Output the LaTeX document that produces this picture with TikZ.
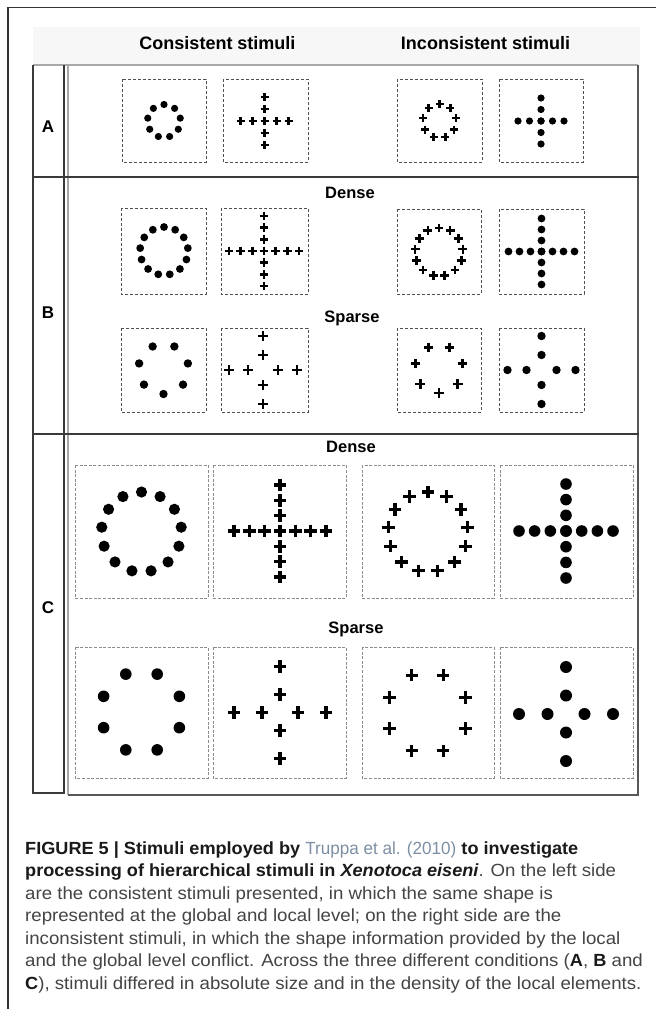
\documentclass[tikz,border=0pt]{standalone}
\usepackage{fontspec}
\setmainfont{Liberation Sans}
\newfontfamily\capfont[FakeStretch=1.06]{Liberation Sans}
\newfontfamily\capboldfont[FakeStretch=1.03]{Liberation Sans}
\newfontfamily\caplinkfont[FakeStretch=0.97]{Liberation Sans}
\definecolor{frameC}{HTML}{333333}
\definecolor{darkline}{HTML}{3A3A3A}
\definecolor{grayline}{HTML}{A8A8A8}
\definecolor{bandC}{HTML}{F7F7F7}
\definecolor{boxAB}{HTML}{505050}
\definecolor{boxC}{HTML}{8C8C8C}
\definecolor{capText}{HTML}{444444}
\definecolor{capBold}{HTML}{1A1A1A}
\definecolor{linkC}{HTML}{7D8FA3}
\newcommand{\stimdot}[3]{\fill[black] ({#1},{#2}) circle[radius=#3];}
\newcommand{\stimplus}[4]{\draw[black,line width=#4] ({#1-#3},{#2}) -- ({#1+#3},{#2}) ({#1},{#2-#3}) -- ({#1},{#2+#3});}
\newcommand{\ringdots}[6]{\foreach \k in {1,...,#4}{\pgfmathsetmacro{\stimang}{#5+360*(\k-1)/#4}\stimdot{#1+#3*cos(\stimang)}{#2-#3*sin(\stimang)}{#6}}}
\newcommand{\ringplus}[7]{\foreach \k in {1,...,#4}{\pgfmathsetmacro{\stimang}{#5+360*(\k-1)/#4}\stimplus{#1+#3*cos(\stimang)}{#2-#3*sin(\stimang)}{#6}{#7}}}
\newcommand{\crossdots}[4]{\foreach \off in {#3}{\stimdot{#1+\off}{#2}{#4}\stimdot{#1}{#2+\off}{#4}}}
\newcommand{\crossplus}[5]{\foreach \off in {#3}{\stimplus{#1+\off}{#2}{#4}{#5}\stimplus{#1}{#2+\off}{#4}{#5}}}
\newcommand{\capb}[1]{{\capboldfont\bfseries\color{capBold}#1}}
\begin{document}
\begin{tikzpicture}[x=1pt,y=-1pt,
  boxab/.style={draw=boxAB,line width=0.8pt,dash pattern=on 3pt off 2pt},
  boxc/.style={draw=boxC,line width=0.8pt,dash pattern=on 3pt off 1.6pt},
  headtxt/.style={font=\fontsize{18}{20}\selectfont\bfseries,text=black,inner sep=0pt},
  subtxt/.style={font=\fontsize{16.5}{18}\selectfont\bfseries,text=black,inner sep=0pt},
  rowtxt/.style={font=\fontsize{17}{19}\selectfont\bfseries,text=black,inner sep=0pt},
  captxt/.style={font=\capfont\fontsize{17.6}{20}\selectfont,text=capText,inner sep=0pt,anchor=base west}]
\useasboundingbox (0,0) rectangle (656,1009);
\fill[white] (0,0) rectangle (656,1009);
% outer frame
\draw[frameC,line width=1.2pt] (656,7.5) -- (8,7.5) -- (8,1009);
% header band
\fill[bandC] (33,27) rectangle (640,65);
\node[headtxt] (hcons) at (217.5,43) {Consistent stimuli};
\node[headtxt] (hincons) at (485.5,43) {Inconsistent stimuli};
% table
\draw[grayline,line width=1.2pt] (33,65) -- (638,65);
\draw[darkline,line width=1.2pt] (33,65) -- (33,793) -- (64,793) -- (64,65);
\draw[grayline,line width=1.2pt] (68,65) -- (68,795);
\draw[darkline!85,line width=1.5pt] (638,65) -- (638,795);
\draw[darkline!85,line width=1.8pt] (68,795) -- (638.7,795);
\draw[darkline,line width=2pt] (33,177) -- (638.7,177);
\draw[darkline,line width=2pt] (33,434) -- (638.7,434);
\node[rowtxt] (labA) at (48,127) {A};
\node[rowtxt] (labB) at (48,313) {B};
\node[rowtxt] (labC) at (48,608) {C};
% ---- row A
\draw[boxab] (122,79) rectangle (206,162);
\draw[boxab] (223,79) rectangle (308,162);
\draw[boxab] (397,79) rectangle (482,162);
\draw[boxab] (499,79) rectangle (583,162);
\ringdots{164}{121}{16.5}{9}{90}{3.6}
\crossplus{264.5}{121}{-24,-12,0,12,24}{4}{2.5}
\ringplus{439.5}{121}{17}{9}{90}{4}{2.5}
\crossdots{541}{121}{-23,-11.5,0,11.5,23}{3.6}
% ---- row B
\node[subtxt] (bdense) at (350,193) {Dense};
\node[subtxt] (bsparse) at (352,318) {Sparse};
\draw[boxab] (121,208) rectangle (206,294);
\draw[boxab] (221,208) rectangle (308,294);
\draw[boxab] (397,209) rectangle (481,294);
\draw[boxab] (499,209) rectangle (584,294);
\ringdots{164}{251}{24}{13}{90}{3.9}
\crossplus{264}{251}{-35,-23.4,-11.7,0,11.7,23.4,35}{4.4}{2.6}
\ringplus{439}{252}{24}{13}{90}{4.4}{2.6}
\crossdots{541.5}{251.5}{-33,-22,-11,0,11,22,33}{3.9}
\draw[boxab] (121,328) rectangle (206,412);
\draw[boxab] (221,328) rectangle (308,412);
\draw[boxab] (397,328) rectangle (481,412);
\draw[boxab] (499,328) rectangle (584,412);
\ringdots{163.5}{369}{25}{7}{270}{4.2}
\crossplus{263}{370}{-34,-15,15,34}{4.8}{2.7}
\ringplus{439}{369}{24}{7}{270}{4.8}{2.7}
\crossdots{541.5}{370}{-34,-15,15,34}{4.2}
% ---- row C
\node[subtxt] (cdense) at (351,447) {Dense};
\node[subtxt] (csparse) at (356,629) {Sparse};
\draw[boxc] (75,465) rectangle (208,598);
\draw[boxc] (213,465) rectangle (346,598);
\draw[boxc] (362,465) rectangle (494,598);
\draw[boxc] (500,465) rectangle (633,598);
\ringdots{141.5}{532}{40}{13}{90}{5.6}
\crossplus{280}{531}{-46,-30.7,-15.3,0,15.3,30.7,46}{6.3}{3.2}
\ringplus{428}{532}{40}{13}{90}{6.3}{3.2}
\crossdots{566}{531}{-47,-31.4,-15.7,0,15.7,31.4,47}{5.8}
\draw[boxc] (75,647) rectangle (208,778);
\draw[boxc] (213,647) rectangle (346,778);
\draw[boxc] (362,647) rectangle (494,778);
\draw[boxc] (500,647) rectangle (633,778);
\ringdots{141.5}{712}{41}{8}{22.5}{5.8}
\crossplus{280}{712.5}{-46,-18,18,46}{6.3}{3.2}
\ringplus{427.5}{713}{41}{8}{22.5}{6.3}{3.2}
\crossdots{566}{714}{-47,-18.5,18.5,47}{6}
% ---- caption
\node[captxt] (cap1) at (25,854) {\capb{FIGURE 5 | Stimuli employed by} {\caplinkfont\color{linkC}Truppa et al. (2010)} \capb{to investigate}};
\node[captxt] (cap2) at (25,876.5) {\capb{processing of hierarchical stimuli in \itshape Xenotoca eiseni}. On the left side};
\node[captxt] (cap3) at (25,899) {are the consistent stimuli presented, in which the same shape is};
\node[captxt] (cap4) at (25,921.5) {represented at the global and local level; on the right side are the};
\node[captxt] (cap5) at (25,944) {inconsistent stimuli, in which the shape information provided by the local};
\node[captxt] (cap6) at (25,966.5) {and the global level conflict. Across the three different conditions (\capb{A}, \capb{B} and};
\node[captxt] (cap7) at (25,989) {\capb{C}), stimuli differed in absolute size and in the density of the local elements.};
\end{tikzpicture}
\end{document}
